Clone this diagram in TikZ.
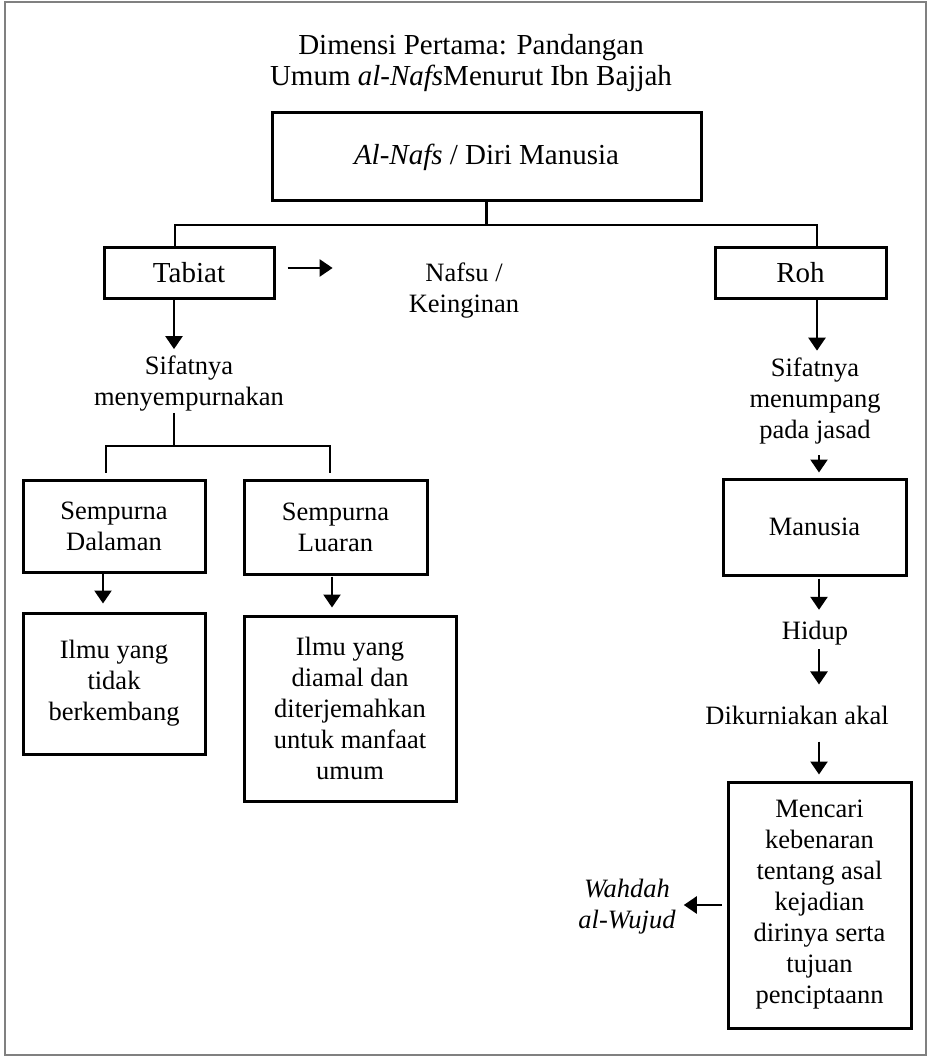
\documentclass[tikz,border=0pt]{standalone}
\usepackage{fontspec}
\setmainfont{Liberation Serif}
\usetikzlibrary{arrows.meta}

\begin{document}
\begin{tikzpicture}[x=1pt,y=-1pt]
    \tikzstyle{box}=[rectangle, draw, line width=3pt, align=center,
    font=\fontsize{26.5}{31}\selectfont]
    \tikzstyle{bigbox}=[box, font=\fontsize{29}{33}\selectfont]
    \tikzstyle{txt}=[align=center, inner sep=1pt,
    font=\fontsize{26.5}{31}\selectfont]
    \tikzstyle{line}=[line width=2.5pt]
    \tikzstyle{arr}=[line width=2.5pt, -{Triangle[length=13pt,width=17pt]}]
\useasboundingbox (0,0) rectangle (928,1056);
\draw[gray, line width=1.5pt] (5,2) rectangle (926,1055);

\node[txt, font=\fontsize{29}{31}\selectfont] (title) at (471,63)
    {Dimensi Pertama: Pandangan\\Umum \textit{al-Nafs}Menurut Ibn Bajjah};

\node[bigbox, minimum width=429pt, minimum height=88pt] (nafs) at (486.5,157)
    {\textit{Al-Nafs} / Diri Manusia};
\node[bigbox, minimum width=170pt, minimum height=50pt] (tabiat) at (189,273) {Tabiat};
\node[bigbox, minimum width=171pt, minimum height=50pt] (roh) at (800.5,273) {Roh};
\node[txt] (nafsu) at (464,291) {Nafsu /\\Keinginan};

% cabang kiri
\node[txt] (sifat1) at (189,384) {Sifatnya\\menyempurnakan};
\node[box, minimum width=182pt, minimum height=92pt] (dalaman) at (114,526)
    {Sempurna\\Dalaman};
\node[box, minimum width=183pt, minimum height=94pt] (luaran) at (335.5,527)
    {Sempurna\\Luaran};
\node[box, minimum width=182pt, minimum height=141pt] (tidak) at (114,683.5)
    {Ilmu yang\\tidak\\berkembang};
\node[box, minimum width=212pt, minimum height=185pt] (diamal) at (350,708.5)
    {Ilmu yang\\diamal dan\\diterjemahkan\\untuk manfaat\\umum};

% cabang kanan
\node[txt] (sifat2) at (815,401) {Sifatnya\\menumpang\\pada jasad};
\node[box, minimum width=183pt, minimum height=96pt] (manusia) at (814.5,527) {Manusia};
\node[txt] (hidup) at (815,633) {Hidup};
\node[txt] (akal) at (797,715) {Dikurniakan akal};
\node[box, minimum width=183pt, minimum height=246pt] (mencari) at (819.5,905)
    {Mencari\\kebenaran\\tentang asal\\kejadian\\dirinya serta\\tujuan\\penciptaann};
\node[txt, font=\itshape\fontsize{26.5}{31}\selectfont] (wahdah) at (627,907)
    {Wahdah\\al-Wujud};

% garis cabang
\coordinate (lbar) at (175,225);
\coordinate (rbar) at (817,225);
\draw[line] (nafs.south) -- (nafs.south |- lbar);
\draw[line] (lbar |- tabiat.north) -- (lbar) -- (rbar) -- (rbar |- roh.north);
\coordinate (lbar2) at (106,446);
\coordinate (rbar2) at (330,446);
\draw[line] ([xshift=-15pt]sifat1.south) -- ([xshift=-15pt]sifat1.south |- lbar2);
\draw[line] ([yshift=6pt]dalaman.north -| lbar2) -- (lbar2) -- (rbar2)
    -- ([yshift=6pt]luaran.north -| rbar2);

% panah
\draw[arr] ([shift={(12,-5)}]tabiat.east) -- ([shift={(-75,-5)}]nafsu.west |- tabiat.east);
\draw[arr] ([xshift=-15pt]tabiat.south) -- ([shift={(-15,-6)}]sifat1.north);
\draw[arr] ([xshift=-11pt]dalaman.south) -- ([shift={(-11,-8)}]tidak.north);
\draw[arr] ([shift={(-3.5,1)}]luaran.south) -- ([shift={(-18,-7)}]diamal.north);
\draw[arr] ([xshift=16.5pt]roh.south) -- ([shift={(2,-6)}]sifat2.north);
\draw[arr] ([shift={(4,10)}]sifat2.south) -- ([shift={(4.5,-5)}]manusia.north);
\draw[arr] ([shift={(4.5,2)}]manusia.south) -- ([shift={(4,-10)}]hidup.north);
\draw[arr] ([shift={(4,3)}]hidup.south) -- ([shift={(22,-20)}]akal.north);
\draw[arr] ([shift={(22,16)}]akal.south) -- ([shift={(-0.5,-6)}]mencari.north);
\draw[arr] ([xshift=-5pt]mencari.west) -- ([xshift=7pt]wahdah.east |- mencari.west);

\end{tikzpicture}
\end{document}
